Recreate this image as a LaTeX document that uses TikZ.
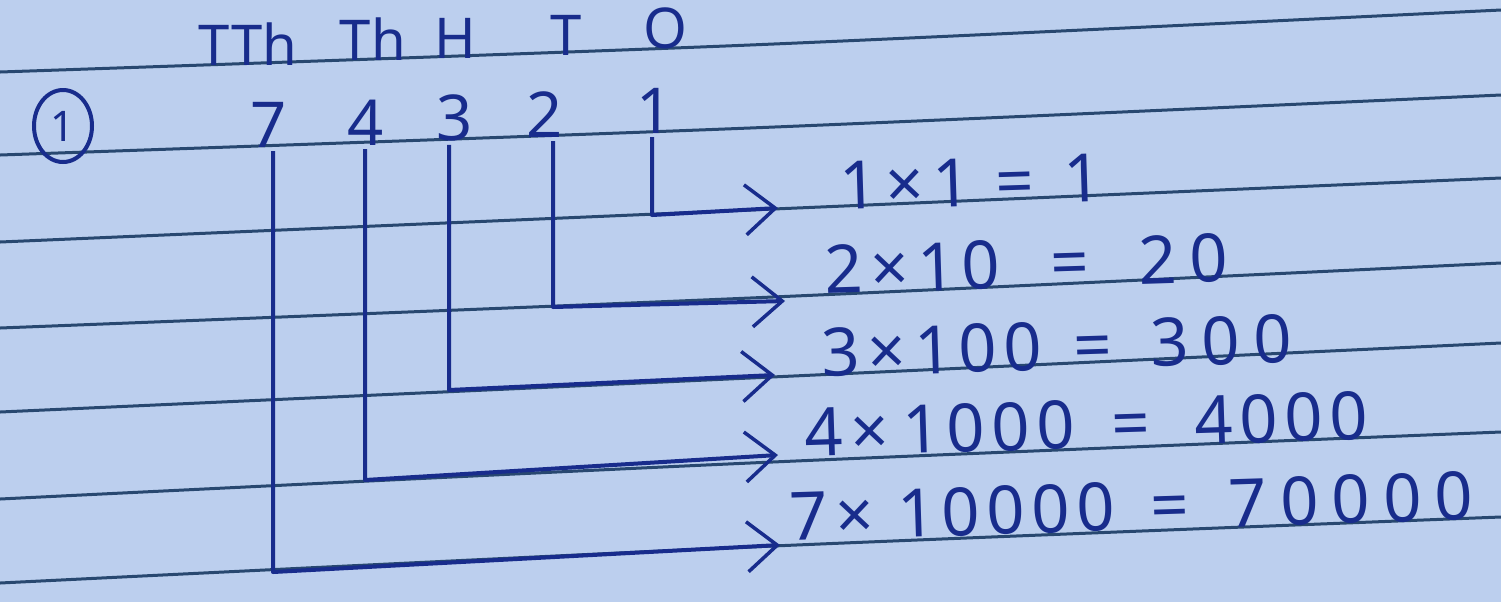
\documentclass[tikz,border=0pt]{standalone}
\usepackage{fontspec}
\setmainfont{Noto Sans}
\newfontfamily\hand[LetterSpace=10]{Noto Sans}
\newfontfamily\handwide[LetterSpace=20]{Noto Sans}
\newcommand\handx{\hspace{0.08cm}×\hspace{0.08cm}}
\usetikzlibrary{arrows.meta,shapes.geometric}
\definecolor{paper}{RGB}{188,207,238}
\definecolor{ruleblue}{RGB}{40,72,112}
\definecolor{ink}{RGB}{24,44,140}
\begin{document}
\begin{tikzpicture}[
  ruleline/.style={draw=ruleblue, line width=0.03cm},
  head/.style={font=\fontsize{16}{16}\selectfont, text=ink, inner sep=0pt, anchor=base},
  digit/.style={font=\fontsize{18}{18}\selectfont, text=ink, inner sep=1pt, anchor=base},
  conn/.style={draw=ink, line width=0.04cm, line join=round,
    -{Straight Barb[length=0.3cm,width=0.5cm,line width=0.035cm]}},
  eqn/.style={font=\hand\fontsize{19}{19}\selectfont, text=ink, inner sep=0pt, anchor=base west, rotate=1.8}
]
\useasboundingbox (0,0) rectangle (15.01,6.02);
\fill[paper] (0,0) rectangle (15.01,6.02);
% ruled lines
\draw[ruleline] plot[smooth] coordinates {(0,5.30) (7.5,5.57) (15.01,5.92)};
\draw[ruleline] plot[smooth] coordinates {(0,4.47) (7.5,4.74) (15.01,5.07)};
\draw[ruleline] plot[smooth] coordinates {(0,3.60) (7.5,3.92) (15.01,4.24)};
\draw[ruleline] plot[smooth] coordinates {(0,2.74) (7.5,3.04) (15.01,3.39)};
\draw[ruleline] plot[smooth] coordinates {(0,1.90) (7.5,2.24) (15.01,2.59)};
\draw[ruleline] plot[smooth] coordinates {(0,1.03) (7.5,1.39) (15.01,1.70)};
\draw[ruleline] plot[smooth] coordinates {(0,0.19) (7.5,0.55) (15.01,0.85)};
% circled number
\node[draw=ink, line width=0.04cm, ellipse, minimum width=0.58cm, minimum height=0.72cm,
  inner sep=0pt, text=ink, font=\fontsize{12}{12}\selectfont] (c1) at (0.63,4.76) {1};
% place-value headings
\node[head] (hTTh) at (2.48,5.37) {TTh};
\node[head] (hTh) at (3.73,5.42) {Th};
\node[head] (hH) at (4.55,5.44) {H};
\node[head] (hT) at (5.66,5.47) {T};
\node[head] (hO) at (6.65,5.54) {O};
% digits
\node[digit] (d7) at (2.69,4.55) {7};
\node[digit] (d4) at (3.66,4.57) {4};
\node[digit] (d3) at (4.55,4.62) {3};
\node[digit] (d2) at (5.45,4.65) {2};
\node[digit] (d1) at (6.55,4.69) {1};
% corners and arrow tips
\coordinate (k1) at (6.52,3.87); \coordinate (t1) at (7.78,3.94);
\coordinate (k2) at (5.53,2.95); \coordinate (t2) at (7.85,3.01);
\coordinate (k3) at (4.49,2.12); \coordinate (t3) at (7.75,2.27);
\coordinate (k4) at (3.65,1.22); \coordinate (t4) at (7.78,1.47);
\coordinate (k7) at (2.73,0.30); \coordinate (t7) at (7.80,0.57);
% connectors
\draw[conn] (d1.south -| k1) -- (k1) -- (t1);
\draw[conn] (d2.south -| k2) -- (k2) -- (t2);
\draw[conn] (d3.south -| k3) -- (k3) -- (t3);
\draw[conn] (d4.south -| k4) -- (k4) -- (t4);
\draw[conn] (d7.south -| k7) -- (k7) -- (t7);
% equations
\node[eqn] (e1) at (8.40,3.92) {1\handx1\hspace{0.25cm}=\hspace{0.3cm}1};
\node[eqn] (e2) at (8.25,3.08) {2\handx10\hspace{0.5cm}=\hspace{0.5cm}{\handwide 20}};
\node[eqn] (e3) at (8.22,2.25) {3\handx100\hspace{0.32cm}=\hspace{0.38cm}{\handwide 300}};
\node[eqn] (e4) at (8.05,1.45) {4\handx\hspace{0.05cm}1000\hspace{0.37cm}=\hspace{0.45cm}4000};
\node[eqn] (e5) at (7.90,0.61) {7\handx\hspace{0.15cm}10000\hspace{0.36cm}=\hspace{0.4cm}{\handwide 70000}};
\end{tikzpicture}
\end{document}
